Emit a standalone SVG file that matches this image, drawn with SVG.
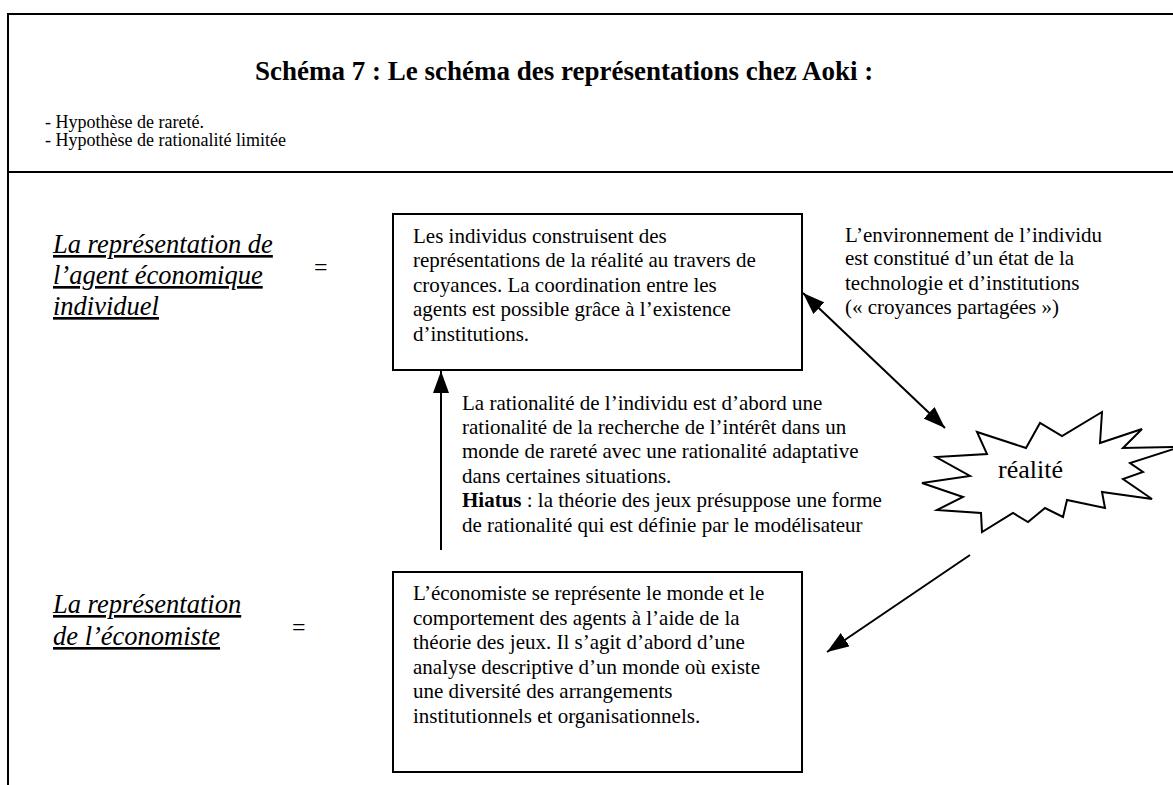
<svg xmlns="http://www.w3.org/2000/svg" width="1173" height="785" viewBox="0 0 1173 785">
<style>
text{font-family:"Liberation Serif","Times New Roman",serif;fill:#000}
.t{font-size:21px}
.s{font-size:18px}
.h{font-size:27px;font-weight:bold}
.lab{font-size:26.5px;font-style:italic;text-decoration:underline}
.eq{font-size:24px}
.box{fill:#fff;stroke:#000;stroke-width:2}
.frame{stroke:#000;stroke-width:2;fill:none}
.conn{stroke:#000;stroke-width:2;fill:none}
</style>
<defs>
<marker id="ah" viewBox="0 0 22 16" refX="22" refY="8" markerWidth="22" markerHeight="16" markerUnits="userSpaceOnUse" orient="auto-start-reverse">
<path d="M0,0 L22,8 L0,16 Z" fill="#000"/>
</marker>
</defs>
<rect width="1173" height="785" fill="#fff"/>
<g id="frame">
<line class="frame" x1="8" y1="14" x2="1173" y2="14"/>
<line class="frame" x1="8" y1="13" x2="8" y2="785"/>
<line class="frame" x1="8" y1="172" x2="1173" y2="172"/>
</g>
<g id="header">
<text class="h" x="255" y="80">Schéma 7 : Le schéma des représentations chez Aoki :</text>
<text class="s" x="45" y="128">- Hypothèse de rareté.</text>
<text class="s" x="45" y="146">- Hypothèse de rationalité limitée</text>
</g>
<g id="label-agent">
<text class="lab" x="53" y="253">La représentation de</text>
<text class="lab" x="53" y="284">l’agent économique</text>
<text class="lab" x="53" y="315">individuel</text>
<text class="eq" x="314" y="275">=</text>
</g>
<g id="label-economiste">
<text class="lab" x="53" y="613">La représentation</text>
<text class="lab" x="53" y="645">de l’économiste</text>
<text class="eq" x="292" y="635">=</text>
</g>
<g id="box-agent">
<rect class="box" x="393" y="214" width="409" height="156"/>
<text class="t" x="413" y="243">Les individus construisent des</text>
<text class="t" x="413" y="267">représentations de la réalité au travers de</text>
<text class="t" x="413" y="292">croyances. La coordination entre les</text>
<text class="t" x="413" y="316">agents est possible grâce à l’existence</text>
<text class="t" x="413" y="341">d’institutions.</text>
</g>
<g id="box-economiste">
<rect class="box" x="393" y="572" width="409" height="200"/>
<text class="t" x="413" y="600">L’économiste se représente le monde et le</text>
<text class="t" x="413" y="625">comportement des agents à l’aide de la</text>
<text class="t" x="413" y="649">théorie des jeux. Il s’agit d’abord d’une</text>
<text class="t" x="413" y="674">analyse descriptive d’un monde où existe</text>
<text class="t" x="413" y="698">une diversité des arrangements</text>
<text class="t" x="413" y="723">institutionnels et organisationnels.</text>
</g>
<g id="text-environnement">
<text class="t" x="845" y="242">L’environnement de l’individu</text>
<text class="t" x="845" y="265">est constitué d’un état de la</text>
<text class="t" x="845" y="290">technologie et d’institutions</text>
<text class="t" x="845" y="314">(« croyances partagées »)</text>
</g>
<g id="text-rationalite">
<text class="t" x="462" y="410">La rationalité de l’individu est d’abord une</text>
<text class="t" x="462" y="434">rationalité de la recherche de l’intérêt dans un</text>
<text class="t" x="462" y="458">monde de rareté avec une rationalité adaptative</text>
<text class="t" x="462" y="483">dans certaines situations.</text>
<text class="t" x="462" y="507"><tspan font-weight="bold">Hiatus</tspan> : la théorie des jeux présuppose une forme</text>
<text class="t" x="462" y="532">de rationalité qui est définie par le modélisateur</text>
</g>
<g id="realite">
<polygon points="922,483 970,476 936,457 987,454 977,432 1026,448 1040,423 1062,436 1102,412 1100,443 1142,429 1123,448 1180,447 1130,463 1143,472 1123,479 1152,499 1102,492 1105,508 1067,500 1063,517 1045,508 1028,522 1013,513 982,532 981,513 937,510 963,497" fill="#fff" stroke="#000" stroke-width="2"/>
<text x="998" y="478" style="font-size:26px">réalité</text>
</g>
<g id="connectors">
<line class="conn" x1="441" y1="550" x2="441" y2="371" marker-end="url(#ah)"/>
<line class="conn" x1="803" y1="293" x2="945" y2="428" marker-start="url(#ah)" marker-end="url(#ah)"/>
<line class="conn" x1="970" y1="555" x2="827" y2="652" marker-end="url(#ah)"/>
</g>
</svg>
